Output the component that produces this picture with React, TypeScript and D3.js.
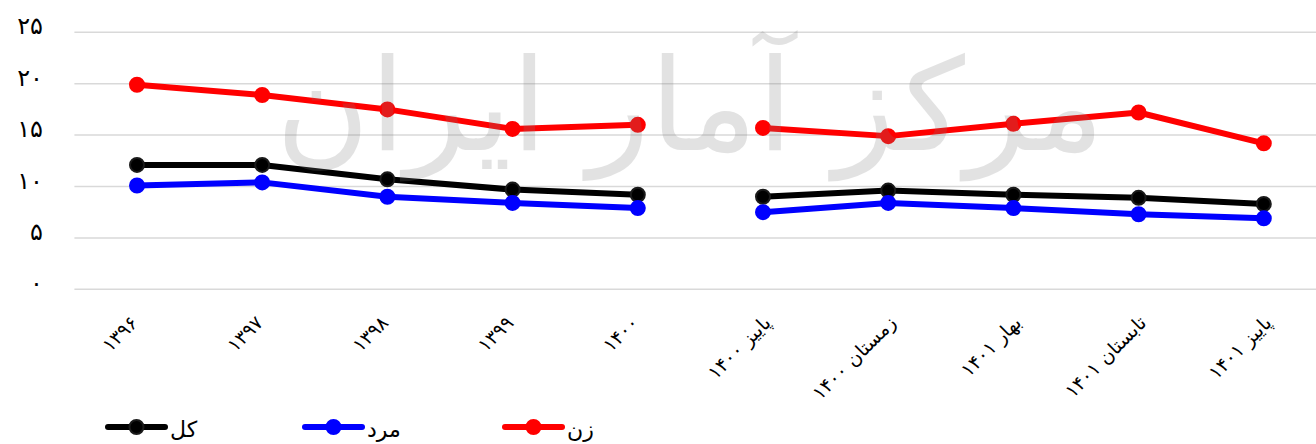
import React from "react";
import * as d3 from "d3";

const categories = [
  "۱۳۹۶",
  "۱۳۹۷",
  "۱۳۹۸",
  "۱۳۹۹",
  "۱۴۰۰",
  "پاییز ۱۴۰۰",
  "زمستان ۱۴۰۰",
  "بهار ۱۴۰۱",
  "تابستان ۱۴۰۱",
  "پاییز ۱۴۰۱",
];
const periodGroup = ["annual", "annual", "annual", "annual", "annual", "seasonal", "seasonal", "seasonal", "seasonal", "seasonal"];
const totalValues = [12.1, 12.1, 10.7, 9.7, 9.2, 9.0, 9.6, 9.2, 8.9, 8.3];
const maleValues = [10.1, 10.4, 9.0, 8.4, 7.9, 7.5, 8.4, 7.9, 7.3, 6.9];
const femaleValues = [19.9, 18.9, 17.5, 15.6, 16.0, 15.7, 14.9, 16.1, 17.2, 14.2];
const yTicks = [0, 5, 10, 15, 20, 25];
const seriesNames = ["کل", "مرد", "زن"];
const watermarkText = "مرکز آمار ایران";

const toFa = (n: number) => String(n).replace(/\d/g, (d) => "۰۱۲۳۴۵۶۷۸۹"[+d]);

const W = 1316;
const H = 444;
const FONT = "'DejaVu Sans', sans-serif";

export default function App() {
  const x = d3.scalePoint<string>().domain(categories).range([74.4, 1326.4]).padding(0.5);
  const y = d3.scaleLinear().domain([0, 25]).range([289.3, 32.3]);

  const series = [
    { name: seriesNames[0], color: "#000000", stroke: "#1a1a1a", values: totalValues },
    { name: seriesNames[1], color: "#0000ff", stroke: "#0000ff", values: maleValues },
    { name: seriesNames[2], color: "#ff0000", stroke: "#ff0000", values: femaleValues },
  ];

  const groups = Array.from(new Set(periodGroup));
  const line = d3
    .line<{ c: string; v: number }>()
    .x((d) => x(d.c)!)
    .y((d) => y(d.v));

  const legendX = [108, 305, 505];

  return (
    <div style={{ position: "absolute", left: 0, top: 0 }}>
      <svg width={W} height={H} style={{ display: "block", fontFamily: FONT }}>
        <rect width={W} height={H} fill="#ffffff" />
        {yTicks.map((t) => (
          <g key={t}>
            <line x1={74.4} x2={1326.4} y1={y(t)} y2={y(t)} stroke="#d9d9d9" strokeWidth={1.5} />
            <text x={43} y={y(t) - 6} textAnchor="end" dominantBaseline="central" fontSize={24} fill="#000">
              {toFa(t)}
            </text>
          </g>
        ))}
        {categories.map((c) => (
          <text
            key={c}
            transform={`translate(${x(c)! + (c.includes(" ") ? 9 : 2)},${324}) rotate(-45)`}
            textAnchor="end"
            fontSize={19}
            fill="#000"
          >
            {c}
          </text>
        ))}
        {series.map((s) => (
          <g key={s.name}>
            {groups.map((g) => {
              const pts = categories
                .map((c, i) => ({ c, v: s.values[i], g: periodGroup[i] }))
                .filter((d) => d.g === g);
              return (
                <path
                  key={g}
                  d={line(pts) || ""}
                  fill="none"
                  stroke={s.color}
                  strokeWidth={6}
                  strokeLinejoin="round"
                  strokeLinecap="round"
                />
              );
            })}
            {categories.map((c, i) => (
              <circle key={c} cx={x(c)} cy={y(s.values[i])} r={7} fill={s.color} stroke={s.stroke} strokeWidth={2} />
            ))}
          </g>
        ))}
        {series.map((s, i) => (
          <g key={"lg" + s.name}>
            <line
              x1={legendX[i]}
              x2={legendX[i] + 57}
              y1={427}
              y2={427}
              stroke={s.color}
              strokeWidth={6}
              strokeLinecap="round"
            />
            <circle cx={legendX[i] + 28.5} cy={427} r={7} fill={s.color} stroke={s.stroke} strokeWidth={2} />
            <text x={legendX[i] + 62} y={429} dominantBaseline="central" fontSize={22} fill="#000">
              {s.name}
            </text>
          </g>
        ))}
        <text
          x={690}
          y={150}
          textAnchor="middle"
          fontSize={128}
          fill="#7f7f7f"
          opacity={0.22}
          style={{ fontFamily: FONT }}
        >
          {watermarkText}
        </text>
      </svg>
    </div>
  );
}
